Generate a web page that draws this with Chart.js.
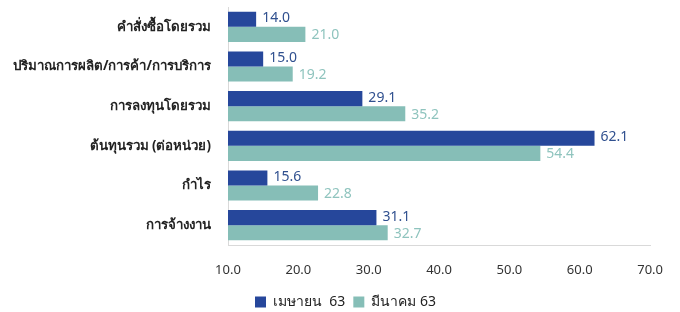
<!DOCTYPE html>
<html>
<head>
<meta charset="utf-8">
<script src="https://cdn.jsdelivr.net/npm/chart.js@4"></script>
<style>
  html, body { margin: 0; padding: 0; background: #fff; }
  #wrap { width: 680px; height: 312px; }
</style>
</head>
<body>
<div id="wrap"><canvas id="myChart" width="680" height="312"></canvas></div>
<script>
const categories = [
  "คำสั่งซื้อโดยรวม",
  "ปริมาณการผลิต/การค้า/การบริการ",
  "การลงทุนโดยรวม",
  "ต้นทุนรวม (ต่อหน่วย)",
  "กำไร",
  "การจ้างงาน"
];
const aprilValues = [14.0, 15.0, 29.1, 62.1, 15.6, 31.1];
const marchValues = [21.0, 19.2, 35.2, 54.4, 22.8, 32.7];
const seriesNames = ["เมษายน  63", "มีนาคม 63"];
const xMin = 10, xMax = 70, xStep = 10;

const thaiFont = "Tahoma, 'Noto Sans', 'DejaVu Sans', sans-serif";
const labelColors = ["#30508f", "#8fc4be"];

// draw the value at the end of each bar
const valueLabels = {
  id: 'valueLabels',
  afterDatasetsDraw(chart) {
    const ctx = chart.ctx;
    ctx.save();
    ctx.font = "14px " + thaiFont;
    ctx.textBaseline = 'middle';
    ctx.textAlign = 'left';
    chart.data.datasets.forEach((ds, i) => {
      const meta = chart.getDatasetMeta(i);
      ctx.fillStyle = labelColors[i];
      meta.data.forEach((bar, j) => {
        ctx.fillText(ds.data[j].toFixed(1), bar.x + 6, bar.y + (i === 0 ? -1 : 1));
      });
    });
    ctx.restore();
  }
};

// legend in the picture sits a bit right of the canvas centre and lower
const legendShift = {
  id: 'legendShift',
  afterLayout(chart) {
    chart.legend.left += 18;
    chart.legend.right += 18;
    chart.legend.top += 7;
    chart.legend.bottom += 7;
  }
};

const ctx = document.getElementById('myChart').getContext('2d');
const myChart = new Chart(ctx, {
  type: 'bar',
  data: {
    labels: categories,
    datasets: [{
      label: seriesNames[0],
      data: aprilValues,
      backgroundColor: '#26479b',
      borderWidth: 0,
      categoryPercentage: 0.76,
      barPercentage: 1
    }, {
      label: seriesNames[1],
      data: marchValues,
      backgroundColor: '#86beb7',
      borderWidth: 0,
      categoryPercentage: 0.76,
      barPercentage: 1
    }]
  },
  options: {
    indexAxis: 'y',
    responsive: false,
    animation: false,
    layout: { padding: { top: 7, right: 25, left: 0, bottom: 0 } },
    scales: {
      x: {
        min: xMin,
        max: xMax,
        grid: { display: false, drawTicks: false },
        border: { display: true, color: '#d9d9d9' },
        ticks: {
          stepSize: xStep,
          padding: 17,
          color: '#333',
          font: { size: 13, family: thaiFont },
          callback: v => v.toFixed(1)
        },
        afterFit: s => { s.height = 35; }
      },
      y: {
        grid: { display: false, drawTicks: false },
        border: { display: true, color: '#d9d9d9' },
        ticks: {
          padding: 17,
          color: '#222',
          font: { size: 13.3, weight: 'bold', family: thaiFont }
        },
        afterFit: s => { s.width = 228; s.paddingTop = 0; s.paddingBottom = 0; }
      }
    },
    plugins: {
      legend: {
        position: 'bottom',
        labels: {
          boxWidth: 11,
          boxHeight: 11,
          padding: 8,
          color: '#222',
          font: { size: 14, family: thaiFont }
        }
      },
      tooltip: { enabled: false }
    }
  },
  plugins: [valueLabels, legendShift]
});
</script>
</body>
</html>
